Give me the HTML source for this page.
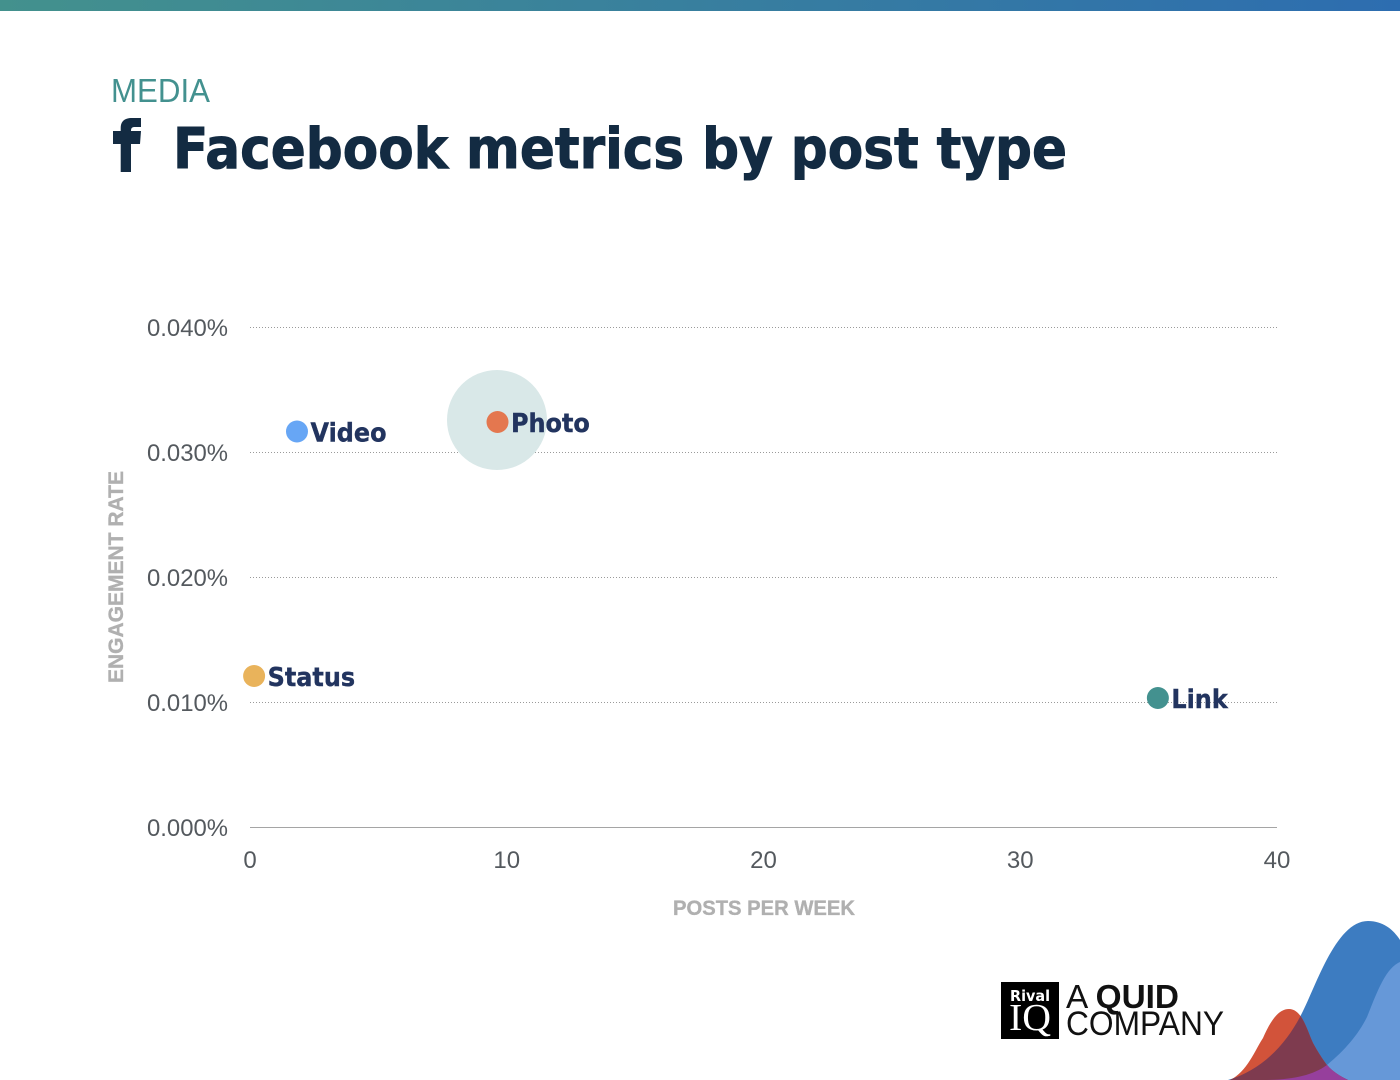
<!DOCTYPE html>
<html lang="en">
<head>
<meta charset="utf-8">
<title>Facebook metrics by post type</title>
<style>
html,body{margin:0;padding:0;background:#fff;width:1400px;height:1080px;overflow:hidden}
svg{display:block;position:absolute;left:0;top:0}
text{font-family:"DejaVu Sans","Liberation Sans",sans-serif}
.tick{font-family:"Liberation Sans",sans-serif;font-size:24px;fill:#54595e}
.axt{font-weight:700;font-size:21px;fill:#b0b0b0;stroke:#b0b0b0;stroke-width:.35px;font-family:"Liberation Sans",sans-serif}
.lab{font-weight:700;font-size:26px;fill:#22345f;stroke:#22345f;stroke-width:.4px}
</style>
</head>
<body>
<svg id="chart" width="1400" height="1080" viewBox="0 0 1400 1080" xmlns="http://www.w3.org/2000/svg">
<defs>
<linearGradient id="barGrad" x1="0" x2="1" y1="0" y2="0"><stop offset="0" stop-color="#43918d"/><stop offset="1" stop-color="#2d6db0"/></linearGradient>
<clipPath id="clipBlue"><path d="M1228 1080C1262 1070 1285 1045 1300 1017C1315 990 1335 921 1368 921C1385 921 1395 932 1400 940V1080Z"/></clipPath>
<clipPath id="clipLight"><path d="M1262 1080C1290 1080 1312 1076 1327 1065C1345 1050 1358 1035 1367 1017C1376 995 1385 968 1400 962V1080Z"/></clipPath>
</defs>
<rect x="0" y="0" width="1400" height="11" fill="url(#barGrad)"/>
<text x="111" y="102" textLength="99" lengthAdjust="spacingAndGlyphs" font-size="33" fill="#43918f" style="font-family:'Liberation Sans',sans-serif">MEDIA</text>
<path d="M120.7 172V144H113V131H120.7V128C120.7 121 125 118 132 118H141V127H135C132 127 131 128 131 131H141L140 144H131V172Z" fill="#132b42"/>
<text x="173" y="168" textLength="894" lengthAdjust="spacingAndGlyphs" font-size="56" font-weight="700" fill="#132b42" stroke="#132b42" stroke-width="1">Facebook metrics by post type</text>
<g id="grid"></g>
<g id="xticks"></g>
<g id="yticks"></g>
<text class="axt" x="764" y="915" text-anchor="middle" textLength="182" lengthAdjust="spacingAndGlyphs">POSTS PER WEEK</text>
<text class="axt" transform="translate(123,577) rotate(-90)" text-anchor="middle" textLength="212" lengthAdjust="spacingAndGlyphs">ENGAGEMENT RATE</text>
<g id="highlight"></g>
<g id="points"></g>
<g>
<rect x="1001" y="982" width="58" height="57" fill="#000"/>
<text x="1030" y="1001" text-anchor="middle" textLength="40" lengthAdjust="spacingAndGlyphs" font-size="15" font-weight="700" fill="#fff">Rival</text>
<text x="1030" y="1030" text-anchor="middle" textLength="42" lengthAdjust="spacingAndGlyphs" font-size="38" fill="#fff" style="font-family:'Liberation Serif',serif">IQ</text>
</g>
<text x="1066" y="1008" textLength="113" lengthAdjust="spacingAndGlyphs" font-size="33" fill="#111" style="font-family:'Liberation Sans',sans-serif">A <tspan font-weight="700">QUID</tspan></text>
<text x="1066" y="1035" textLength="158" lengthAdjust="spacingAndGlyphs" font-size="34" fill="#111" style="font-family:'Liberation Sans',sans-serif">COMPANY</text>
<g>
<path d="M1228 1080C1262 1070 1285 1045 1300 1017C1315 990 1335 921 1368 921C1385 921 1395 932 1400 940V1080Z" fill="#3d7cc1"/>
<path d="M1262 1080C1290 1080 1312 1076 1327 1065C1345 1050 1358 1035 1367 1017C1376 995 1385 968 1400 962V1080Z" fill="#6698d8"/>
<path id="redShape" d="M1230 1080C1247 1072 1255 1050 1263 1038C1270 1022 1278 1009 1289 1009C1302 1009 1307 1030 1313 1043C1320 1056 1327 1065 1327 1065C1333 1072 1340 1076 1348 1080Z" fill="#d2533a"/>
<g clip-path="url(#clipBlue)"><path d="M1230 1080C1247 1072 1255 1050 1263 1038C1270 1022 1278 1009 1289 1009C1302 1009 1307 1030 1313 1043C1320 1056 1327 1065 1327 1065C1333 1072 1340 1076 1348 1080Z" fill="#7e3b4f"/></g>
<g clip-path="url(#clipLight)"><path d="M1230 1080C1247 1072 1255 1050 1263 1038C1270 1022 1278 1009 1289 1009C1302 1009 1307 1030 1313 1043C1320 1056 1327 1065 1327 1065C1333 1072 1340 1076 1348 1080Z" fill="#963f9c"/></g>
</g>
</svg>
<script>
var categories = ["Video", "Photo", "Status", "Link"];
var postsPerWeek = [1.83, 9.64, 0.16, 35.36];
var engagementRate = [0.03168, 0.03244, 0.01212, 0.01036];
var pointColors = ["#67a6f5", "#e4774f", "#e9b35b", "#43918f"];
var highlightCategory = ["Photo"];
var highlightPosts = [9.62];
var highlightRate = [0.0326];
var xTickValues = [0, 10, 20, 30, 40];
var yTickValues = [0, 0.01, 0.02, 0.03, 0.04];

var xMin = 0, xMax = 40, yMin = 0, yMax = 0.04;
var plotLeft = 250, plotRight = 1277, plotTop = 327.5, plotBottom = 827.5;
function xScale(v) { return plotLeft + (v - xMin) / (xMax - xMin) * (plotRight - plotLeft); }
function yScale(v) { return plotBottom - (v - yMin) / (yMax - yMin) * (plotBottom - plotTop); }
var NS = "http://www.w3.org/2000/svg";
function make(tag, attrs, parent, txt) {
  var el = document.createElementNS(NS, tag);
  for (var k in attrs) { el.setAttribute(k, attrs[k]); }
  if (txt !== undefined) { el.textContent = txt; }
  parent.appendChild(el);
  return el;
}
var grid = document.getElementById("grid");
var yticks = document.getElementById("yticks");
var xticks = document.getElementById("xticks");
yTickValues.forEach(function (v) {
  var y = yScale(v);
  var line = make("line", v === 0
    ? {x1: plotLeft, x2: plotRight, y1: y, y2: y, stroke: "#a5a5a5", "stroke-width": 1}
    : {x1: plotLeft, x2: plotRight, y1: y, y2: y, stroke: "#9a9a9a", "stroke-width": 1, "stroke-dasharray": "1 2"}, grid);
  
  
  var t = make("text", {"class": "tick", x: 228, y: y + 8.5, "text-anchor": "end", textLength: 81, lengthAdjust: "spacingAndGlyphs"}, yticks, v.toFixed(3) + "%");
  
  
});
xTickValues.forEach(function (v) {
  var t = make("text", {"class": "tick", x: xScale(v), y: 868, "text-anchor": "middle"}, xticks, String(v));
  
  
});
var hl = document.getElementById("highlight");
highlightCategory.forEach(function (c, i) {
  var h = make("circle", {cx: xScale(highlightPosts[i]), cy: yScale(highlightRate[i]), r: 50, fill: "#d9e8e8"}, hl);
  
  
});
var pts = document.getElementById("points");
categories.forEach(function (c, i) {
  var cx = xScale(postsPerWeek[i]), cy = yScale(engagementRate[i]);
  var dot = make("circle", {cx: cx, cy: cy, r: 11, fill: pointColors[i]}, pts);
  
  
  var lab = make("text", {"class": "lab", x: 0, y: 0, transform: "translate(" + (cx + 13.5) + "," + (cy + 10) + ") scale(0.92,1)"}, pts, c);
  
  
});
</script>
</body>
</html>
